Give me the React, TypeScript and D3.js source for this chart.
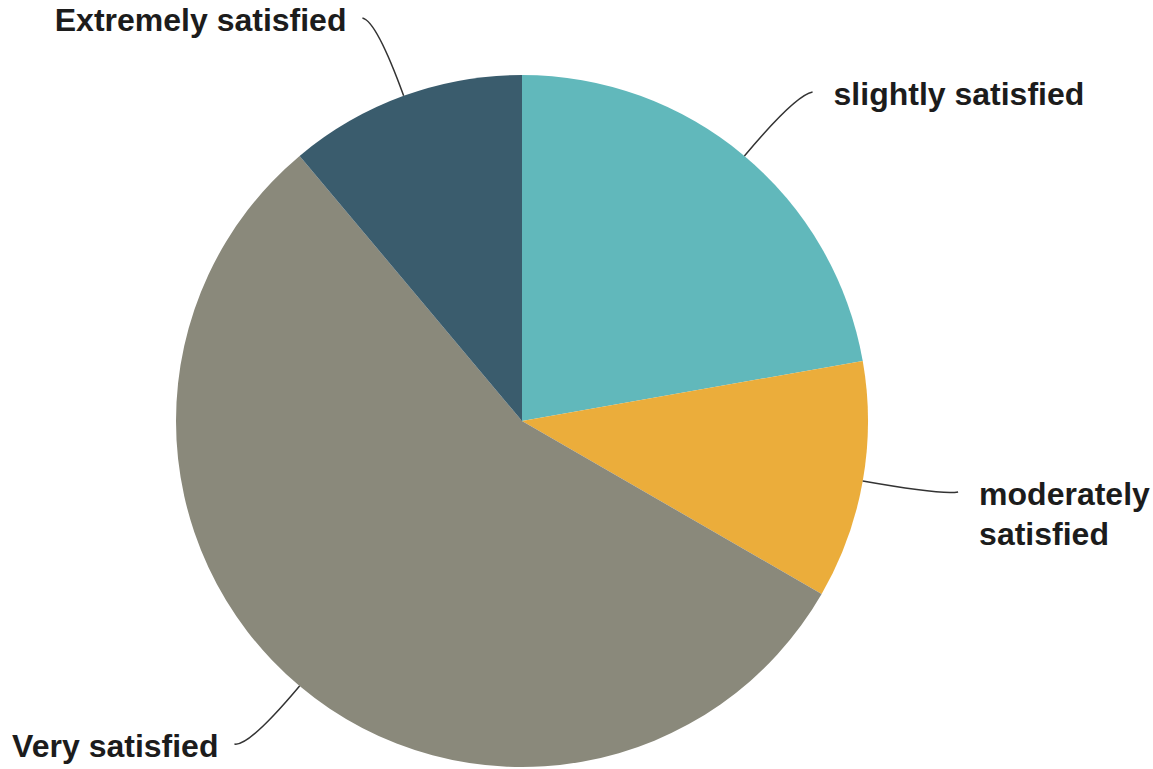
import { useEffect, useRef } from "react";
import * as d3 from "d3";

const categories = [
  "Not at all satisfied",
  "slightly satisfied",
  "moderately satisfied",
  "Very satisfied",
  "Extremely satisfied",
];
const counts = [0, 2, 1, 5, 1];
const colors = ["#8a8a8a", "#61b8bb", "#ebad3b", "#8a897b", "#3a5c6d"];
const labelLines = [[], ["slightly satisfied"], ["moderately", "satisfied"], ["Very satisfied"], ["Extremely satisfied"]];

const App = () => {
  const ref = useRef(null);
  const width = 1153;
  const height = 769;
  const cx = 522;
  const cy = 421;
  const radius = 346;

  useEffect(() => {
    const svg = d3.select(ref.current);
    svg.selectAll("*").remove();

    const rows = categories.map((c, i) => ({ name: c, value: counts[i], color: colors[i], lines: labelLines[i] }));
    const pie = d3.pie<any>().sort(null).value((d) => d.value);
    const arcs = pie(rows);
    const arc = d3.arc<any>().innerRadius(0).outerRadius(radius);

    const g = svg.append("g").attr("transform", `translate(${cx},${cy})`);

    g.selectAll("path.slice")
      .data(arcs)
      .join("path")
      .attr("class", "slice")
      .attr("d", arc)
      .attr("fill", (d) => d.data.color)
      .attr("stroke", (d) => (d.data.value === 0 ? d.data.color : "none"))
      .attr("stroke-width", 1);

    const labeled = arcs.filter((d) => d.data.value > 0);
    const pt = (a: number, r: number) => [Math.sin(a) * r, -Math.cos(a) * r];

    labeled.forEach((d) => {
      const mid = (d.startAngle + d.endAngle) / 2;
      const side = Math.sin(mid) >= 0 ? 1 : -1;
      const p0 = pt(mid, radius);
      const p1 = pt(mid, radius * 1.23);
      const p2 = [p1[0] + side * (side > 0 ? 17 : 14), p1[1] - 3];
      g.append("path")
        .attr("d", `M${p0[0]},${p0[1]} Q${p1[0]},${p1[1]} ${p2[0]},${p2[1]}`)
        .attr("fill", "none")
        .attr("stroke", "#333")
        .attr("stroke-width", 1.5);

      const gap = side > 0 ? 21 : 16;
      const t = g
        .append("text")
        .attr("text-anchor", side > 0 ? "start" : "end")
        .attr("font-family", "Liberation Sans, Arial, sans-serif")
        .attr("font-weight", "bold")
        .attr("font-size", 32)
        .attr("fill", "#1c1c1c");
      d.data.lines.forEach((line: string, i: number) => {
        t.append("tspan")
          .attr("x", p2[0] + side * gap)
          .attr("y", p2[1] + i * 40 + 13)
          .text(line);
      });
    });
  }, []);

  return (
    <div style={{ position: "fixed", left: 0, top: 0, background: "#fff" }}>
      <svg ref={ref} width={width} height={height} style={{ display: "block" }}></svg>
    </div>
  );
};

export default App;
